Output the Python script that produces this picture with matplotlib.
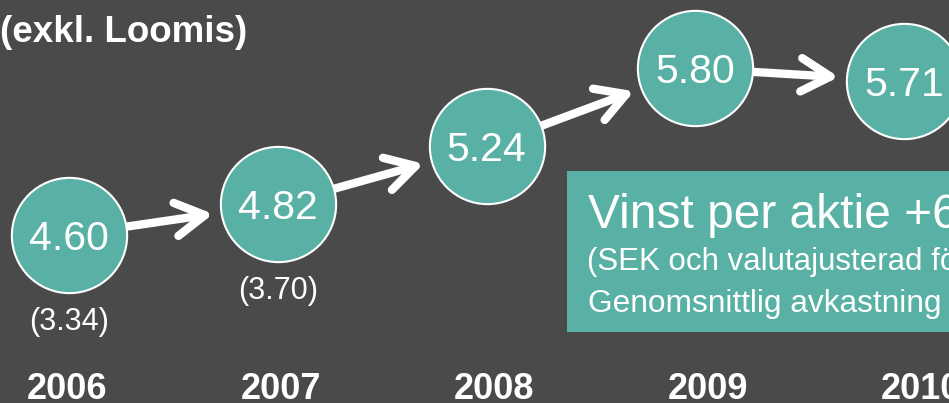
import matplotlib
matplotlib.use("Agg")
import matplotlib.pyplot as plt
from matplotlib.patches import Rectangle

plt.rcParams['font.family'] = ['Liberation Sans', 'DejaVu Sans']

# data
years = [2006, 2007, 2008, 2009, 2010]
eps = [4.60, 4.82, 5.24, 5.80, 5.71]
eps_old = [3.34, 3.70]          # values in brackets (first two years)
title = "(exkl. Loomis)"
box_lines = ["Vinst per aktie +6%",
             "(SEK och valutajusterad för",
             "Genomsnittlig avkastning"]

bg = '#4a4a4a'
teal = '#58b1a4'

fig = plt.figure(figsize=(9.49, 4.03), dpi=100, facecolor=bg)
ax = fig.add_axes([0, 0, 1, 1])
ax.set_facecolor(bg)
ax.set_xlim(2005.669, 2010.216)
ax.set_ylim(3.390, 6.293)
ax.axis('off')

# year row sits on its own axis (spaced a bit wider than the circles)
ax_yr = fig.add_axes([0, 0, 1, 1], frameon=False)
ax_yr.set_xlim(2005.686, 2010.131)
ax_yr.set_ylim(0, 1)
ax_yr.axis('off')
for x in years:
    ax_yr.text(x, 0.01, str(x), color='white', fontsize=26,
               fontweight='bold', ha='center', va='baseline')

# arrows between the circles
for i in range(len(years) - 1):
    ax.annotate("", xy=(years[i + 1], eps[i + 1]), xytext=(years[i], eps[i]),
                arrowprops=dict(arrowstyle="->,head_length=1.05,head_width=0.6",
                                color='white', lw=6, mutation_scale=20,
                                shrinkA=41, shrinkB=47, capstyle='round',
                                joinstyle='round'),
                zorder=2)

# circles
ax.plot(years, eps, 'o', ms=83, color=teal, mec='white', mew=1.5,
        linestyle='none', zorder=3)

for x, v in zip(years, eps):
    ax.text(x, v, f"{v:.2f}", color='white', fontsize=29.5,
            ha='center', va='center_baseline', zorder=4)

# bracket values under the first circles
for x, v, o in zip(years, eps, eps_old):
    ax.annotate(f"({o:.2f})", xy=(x, v), xytext=(0, -60),
                textcoords='offset points', color='white', fontsize=22,
                ha='center', va='center_baseline')

ax.text(0.0, 0.8958, title, transform=ax.transAxes, color='white',
        fontsize=26.5, fontweight='bold', ha='left', va='baseline')

# teal summary box on the right
ax.add_patch(Rectangle((0.5975, 0.1762), 0.5, 0.3995, transform=ax.transAxes,
                       facecolor=teal, edgecolor='none', zorder=1))
ax.text(0.6196, 0.4342, box_lines[0], transform=ax.transAxes, color='white',
        fontsize=34.5, ha='left', va='baseline', zorder=2)
ax.text(0.6185, 0.330, box_lines[1], transform=ax.transAxes, color='white',
        fontsize=22.5, ha='left', va='baseline', zorder=2)
ax.text(0.6196, 0.2258, box_lines[2], transform=ax.transAxes, color='white',
        fontsize=22.8, ha='left', va='baseline', zorder=2)

fig.savefig("out.png", dpi=100, facecolor=bg)
